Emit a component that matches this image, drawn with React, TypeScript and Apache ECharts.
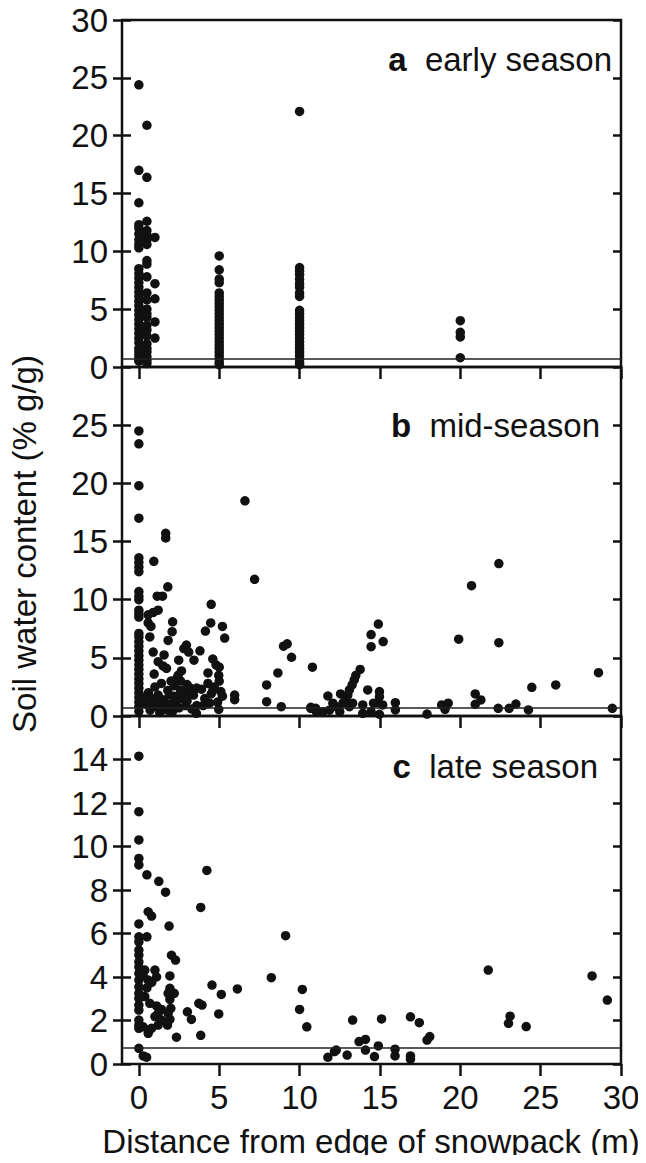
import React, { useEffect, useRef } from "react";
import * as echarts from "echarts";

// ---------- data ----------
const xTicks = [0, 5, 10, 15, 20, 25, 30];
const yTicksEarly = [0, 5, 10, 15, 20, 25, 30];
const yTicksMid = [0, 5, 10, 15, 20, 25];
const yTicksLate = [0, 2, 4, 6, 8, 10, 12, 14];
const thresholdValue = 0.75;

const panelLabels = [
  { letter: "a", text: "early season" },
  { letter: "b", text: "mid-season" },
  { letter: "c", text: "late season" },
];

const earlySeason: number[][] = [
  // 0 m
  [0, 24.4], [0, 17.0], [0, 14.2], [0, 12.3], [0, 12.0], [0, 11.5], [0, 11.0], [0, 10.6], [0, 10.3],
  [0, 8.5], [0, 8.1], [0, 7.7], [0, 7.3], [0, 6.9], [0, 6.5], [0, 6.1], [0, 5.7], [0, 5.3], [0, 4.9],
  [0, 4.5], [0, 4.1], [0, 3.7], [0, 3.3], [0, 2.9], [0, 2.5], [0, 2.1], [0, 1.6], [0, 1.3], [0, 1.0], [0, 0.7], [0, 0.5],
  // 0.5 m
  [0.5, 20.9], [0.5, 16.4], [0.5, 12.6], [0.5, 11.8], [0.5, 11.4], [0.5, 11.0], [0.5, 10.6], [0.5, 9.2],
  [0.5, 8.9], [0.5, 7.8], [0.5, 6.4], [0.5, 5.8], [0.5, 5.0], [0.5, 4.6], [0.5, 4.3], [0.5, 3.6],
  [0.5, 3.2], [0.5, 2.7], [0.5, 2.0], [0.5, 1.6], [0.5, 1.3], [0.5, 0.9], [0.5, 0.55], [0.5, 0.3],
  // 1 m
  [1.0, 11.2], [1.0, 7.2], [1.0, 5.9], [1.0, 3.9], [1.0, 2.5],
  // 5 m
  [5, 9.6], [5, 8.4], [5, 7.6], [5, 7.3], [5, 6.4], [5, 6.1], [5, 5.8], [5, 5.5], [5, 5.2], [5, 4.9],
  [5, 4.6], [5, 4.3], [5, 4.0], [5, 3.7], [5, 3.4], [5, 3.1], [5, 2.8], [5, 2.5], [5, 2.2], [5, 1.9],
  [5, 1.6], [5, 1.3], [5, 1.0], [5, 0.7], [5, 0.4], [5, 0.2],
  // 10 m
  [10, 22.1], [10, 8.6], [10, 8.3], [10, 8.0], [10, 7.6], [10, 7.2], [10, 6.9], [10, 6.4], [10, 6.1],
  [10, 4.9], [10, 4.6], [10, 4.3], [10, 4.0], [10, 3.7], [10, 3.4], [10, 3.1], [10, 2.8], [10, 2.5],
  [10, 2.2], [10, 1.9], [10, 1.6], [10, 1.3], [10, 1.0], [10, 0.7], [10, 0.4], [10, 0.2],
  // 20 m
  [20, 4.0], [20, 3.0], [20, 2.6], [20, 0.8],
];

const midSeason: number[][] = [
  // 0 m column
  [0, 24.5], [0, 23.4], [0, 19.8], [0, 17.0], [0, 13.6], [0, 13.2], [0, 12.8], [0, 12.4], [0, 10.7],
  [0, 10.3], [0, 10.0], [0, 9.1], [0, 8.8], [0, 8.5], [0, 7.1], [0, 6.8], [0, 6.4], [0, 6.0], [0, 5.6],
  [0, 5.2], [0, 4.8], [0, 4.4], [0, 4.0], [0, 3.6], [0, 3.2], [0, 2.8], [0, 2.4], [0, 2.0], [0, 1.6],
  [0, 1.2], [0, 0.8], [0, 0.4],
  // near edge, upper
  [6.6, 18.5], [1.67, 15.7], [1.67, 15.3], [0.93, 13.3], [7.2, 11.75], [1.8, 11.1], [1.14, 10.3],
  [1.47, 10.3], [4.5, 9.6], [1.2, 9.1], [0.9, 8.9], [0.58, 8.7], [2.1, 8.1], [4.47, 8.0], [5.2, 7.7],
  [0.58, 8.0], [0.75, 7.7], [2.07, 7.25], [4.14, 7.3], [5.34, 6.7], [0.68, 6.8], [1.82, 6.5],
  [2.96, 6.1], [2.8, 5.8], [3.1, 5.5], [3.8, 5.6], [3.43, 4.8], [0.89, 5.5], [1.57, 5.25], [1.2, 4.67],
  [1.5, 4.3], [1.72, 4.1], [2.48, 4.8], [4.6, 4.9], [5.0, 4.2], [2.65, 3.87], [2.44, 3.5], [2.34, 3.2],
  [0.95, 3.6], [4.3, 3.7], [4.97, 3.5], [8.65, 3.7], [10.8, 4.2], [9.0, 6.0], [9.23, 6.2], [9.5, 5.05],
  [7.95, 2.67], [7.95, 1.23], [8.86, 0.8], [10.7, 0.75], [11.0, 0.66], [5.96, 1.8], [5.96, 1.4],
  [4.97, 0.57], [3.58, 0.23],
  // near edge, dense low cluster
  [0.6, 2.0], [0.8, 1.5], [1.0, 2.5], [1.2, 1.8], [1.4, 2.8], [1.6, 1.2], [1.8, 2.2], [2.0, 1.0],
  [2.2, 2.6], [2.4, 1.6], [2.6, 3.0], [2.8, 2.0], [3.0, 1.3], [3.2, 2.4], [3.4, 1.8], [3.6, 0.9],
  [3.9, 2.3], [4.1, 1.5], [4.3, 2.8], [4.5, 1.9], [4.7, 2.5], [4.9, 1.2], [5.1, 2.1], [5.2, 1.7],
  [0.5, 1.0], [0.7, 0.5], [1.1, 0.8], [1.3, 0.3], [1.5, 1.4], [1.7, 0.6], [1.9, 1.8], [2.1, 0.4],
  [2.3, 1.2], [2.5, 0.7], [2.7, 1.5], [2.9, 0.9], [3.1, 2.0], [3.3, 0.6], [4.0, 0.9], [4.4, 1.1],
  [0.4, 1.6], [0.9, 1.1], [1.4, 0.9], [1.8, 0.5], [2.2, 1.7], [3.0, 2.7], [3.6, 2.4], [2.6, 2.2],
  [2.0, 3.0], [1.2, 1.3], [4.8, 4.4], [5.0, 3.0], [4.6, 2.2],
  // farther from edge
  [22.4, 13.1], [20.7, 11.2], [14.9, 7.9], [14.45, 7.0], [15.2, 6.4], [14.45, 5.96], [19.9, 6.6],
  [22.4, 6.3], [13.77, 4.0], [13.5, 3.5], [13.4, 3.1], [13.27, 2.67], [13.1, 2.24], [13.0, 1.8],
  [12.86, 1.4], [12.7, 1.1], [11.76, 1.72], [12.55, 1.9], [12.07, 1.1], [12.28, 0.8], [11.86, 0.5],
  [11.45, 0.37], [11.04, 0.37], [10.7, 0.66], [12.5, 0.37], [13.1, 0.8], [13.3, 1.1], [14.24, 2.24],
  [14.97, 2.1], [14.97, 1.66], [14.86, 1.14], [15.17, 0.95], [14.6, 1.1], [13.93, 0.95], [13.93, 0.23],
  [14.45, 0.37], [14.97, 0.15], [15.96, 1.14], [15.96, 0.52], [17.93, 0.17], [18.84, 0.95],
  [19.05, 0.57], [19.25, 1.1], [20.93, 1.9], [21.28, 1.38], [20.93, 1.0], [22.36, 0.66], [23.04, 0.66],
  [23.46, 1.03], [24.24, 0.52], [24.45, 2.47], [25.94, 2.67], [28.6, 3.72], [29.46, 0.66],
];

const lateSeason: number[][] = [
  // 0 m column
  [0, 14.15], [0, 11.6], [0, 10.3], [0, 9.45], [0, 9.15], [0, 6.44], [0, 5.85], [0, 5.62], [0, 5.24],
  [0, 5.01], [0, 4.7], [0, 4.47], [0, 4.17], [0, 3.86], [0, 3.55], [0, 3.25], [0, 3.02], [0, 2.71],
  [0, 2.48], [0, 2.02], [0, 1.79], [0, 1.64], [0, 0.72],
  // near edge
  [0.27, 0.37], [0.48, 0.31], [0.5, 8.7], [1.24, 8.4], [1.66, 7.9], [3.85, 7.2], [4.23, 8.9],
  [0.58, 7.0], [0.79, 6.8], [1.88, 6.34], [0.5, 5.85], [2.03, 5.0], [2.28, 4.78], [0.37, 4.32],
  [1.0, 4.32], [1.1, 4.0], [0.58, 3.86], [0.27, 4.05], [0.8, 3.75], [0.5, 3.5], [1.93, 4.05],
  [0.37, 3.1], [0.68, 2.79], [1.1, 2.67], [1.41, 2.51], [1.2, 2.33], [1.0, 2.18], [1.41, 2.02],
  [1.2, 1.79], [0.79, 1.64], [0.58, 1.41], [0.27, 1.71], [1.93, 3.48], [1.82, 3.25], [2.2, 3.25],
  [1.93, 2.97], [1.99, 2.56], [1.82, 2.33], [1.93, 2.05], [1.78, 1.79], [4.55, 3.63], [5.13, 3.2],
  [6.13, 3.45], [3.02, 2.4], [3.27, 2.05], [3.73, 2.79], [3.93, 2.71], [4.97, 2.3], [2.34, 1.23],
  [3.85, 1.32],
  // farther
  [9.13, 5.9], [8.24, 3.97], [10.17, 3.43], [10.0, 2.51], [10.45, 1.71], [21.74, 4.32], [28.2, 4.05],
  [29.15, 2.94], [23.1, 2.2], [23.0, 1.87], [24.1, 1.72], [13.3, 2.02], [15.1, 2.07], [16.9, 2.17],
  [17.45, 1.9], [17.93, 1.1], [18.1, 1.26], [13.7, 1.03], [14.1, 1.13], [14.1, 0.64], [14.9, 0.83],
  [14.66, 0.34], [15.94, 0.68], [15.94, 0.37], [16.9, 0.37], [16.9, 0.22], [11.76, 0.31],
  [12.17, 0.57], [12.28, 0.64], [12.96, 0.41],
];

const panelData = [earlySeason, midSeason, lateSeason];
const panelYMax = [30, 30, 16];
const panelYTicks = [yTicksEarly, yTicksMid, yTicksLate];

const xTitle = "Distance from edge of snowpack (m)";
const yTitle = "Soil water content (% g/g)";

// ---------- chart ----------
const FONT = "'Liberation Sans', Arial, Helvetica, sans-serif";
const INK = "#111";

export default function App() {
  const ref = useRef<HTMLDivElement>(null);

  useEffect(() => {
    if (!ref.current) return;
    const chart = echarts.init(ref.current, undefined, { renderer: "svg" });

    const tops = [20, 367, 716];
    const heights = [347, 349, 348];
    const grids = tops.map((t, i) => ({
      left: 122,
      width: 499,
      top: t,
      height: heights[i],
      show: true,
      borderColor: INK,
      borderWidth: 2.5,
      backgroundColor: "transparent",
    }));

    const tickStyle = { color: INK, width: 2.5 };

    const xAxes = [0, 1, 2].map((i) => ({
      gridIndex: i,
      type: "value",
      min: -1.05,
      max: 30,
      axisLine: { show: false, onZero: false },
      splitLine: { show: false },
      axisTick: { show: true, inside: false, length: 12, lineStyle: tickStyle, customValues: xTicks },
      axisLabel: {
        show: i === 2,
        customValues: xTicks,
        fontSize: 33,
        color: INK,
        fontFamily: FONT,
        margin: 17,
      },
    }));

    const yAxes: any[] = [];
    [0, 1, 2].forEach((i) => {
      const base = {
        gridIndex: i,
        type: "value",
        min: 0,
        max: panelYMax[i],
        axisLine: { show: false, onZero: false },
        splitLine: { show: false },
      };
      yAxes.push({
        ...base,
        position: "left",
        axisTick: { show: true, inside: false, length: 9, lineStyle: tickStyle, customValues: panelYTicks[i] },
        axisLabel: {
          show: true,
          customValues: panelYTicks[i],
          fontSize: 33,
          color: INK,
          fontFamily: FONT,
          margin: 14,
        },
      });
      yAxes.push({
        ...base,
        position: "left",
        axisTick: { show: true, inside: true, length: 9, lineStyle: tickStyle, customValues: panelYTicks[i] },
        axisLabel: { show: false },
      });
      yAxes.push({
        ...base,
        position: "right",
        axisTick: { show: true, inside: true, length: 8, lineStyle: tickStyle, customValues: panelYTicks[i] },
        axisLabel: { show: false },
      });
    });

    const series = panelData.map((d, i) => ({
      type: "scatter",
      xAxisIndex: i,
      yAxisIndex: i * 3,
      data: d,
      symbol: "circle",
      symbolSize: 9.5,
      itemStyle: { color: "#111", opacity: 1 },
      clip: false,
      markLine: {
        silent: true,
        symbol: "none",
        label: { show: false },
        lineStyle: { color: "#222", width: 1.5, type: "solid" },
        data: [{ yAxis: thresholdValue }],
      },
    }));

    const labelPos = [
      { x: 612, y: 59 },
      { x: 600, y: 425 },
      { x: 598, y: 766 },
    ];

    const graphic: any[] = panelLabels.map((p, i) => ({
      type: "text",
      x: labelPos[i].x,
      y: labelPos[i].y,
      style: {
        text: `{b|${p.letter}}  ${p.text}`,
        fontSize: 33,
        fontFamily: FONT,
        fill: INK,
        align: "right",
        verticalAlign: "middle",
        rich: {
          b: { fontWeight: "bold", fontSize: 33, fontFamily: FONT, fill: INK },
        },
      },
    }));

    graphic.push({
      type: "text",
      x: 371,
      y: 1141,
      style: {
        text: xTitle,
        fontSize: 33,
        fontFamily: FONT,
        fill: INK,
        align: "center",
        verticalAlign: "middle",
      },
    });
    graphic.push({
      type: "text",
      x: 24,
      y: 544,
      rotation: Math.PI / 2,
      style: {
        text: yTitle,
        fontSize: 33,
        fontFamily: FONT,
        fill: INK,
        align: "center",
        verticalAlign: "middle",
      },
    });

    chart.setOption({
      animation: false,
      backgroundColor: "#fff",
      grid: grids,
      xAxis: xAxes,
      yAxis: yAxes,
      series,
      graphic,
    });

    return () => chart.dispose();
  }, []);

  return <div ref={ref} style={{ width: 646, height: 1163, margin: -8 }} />;
}
